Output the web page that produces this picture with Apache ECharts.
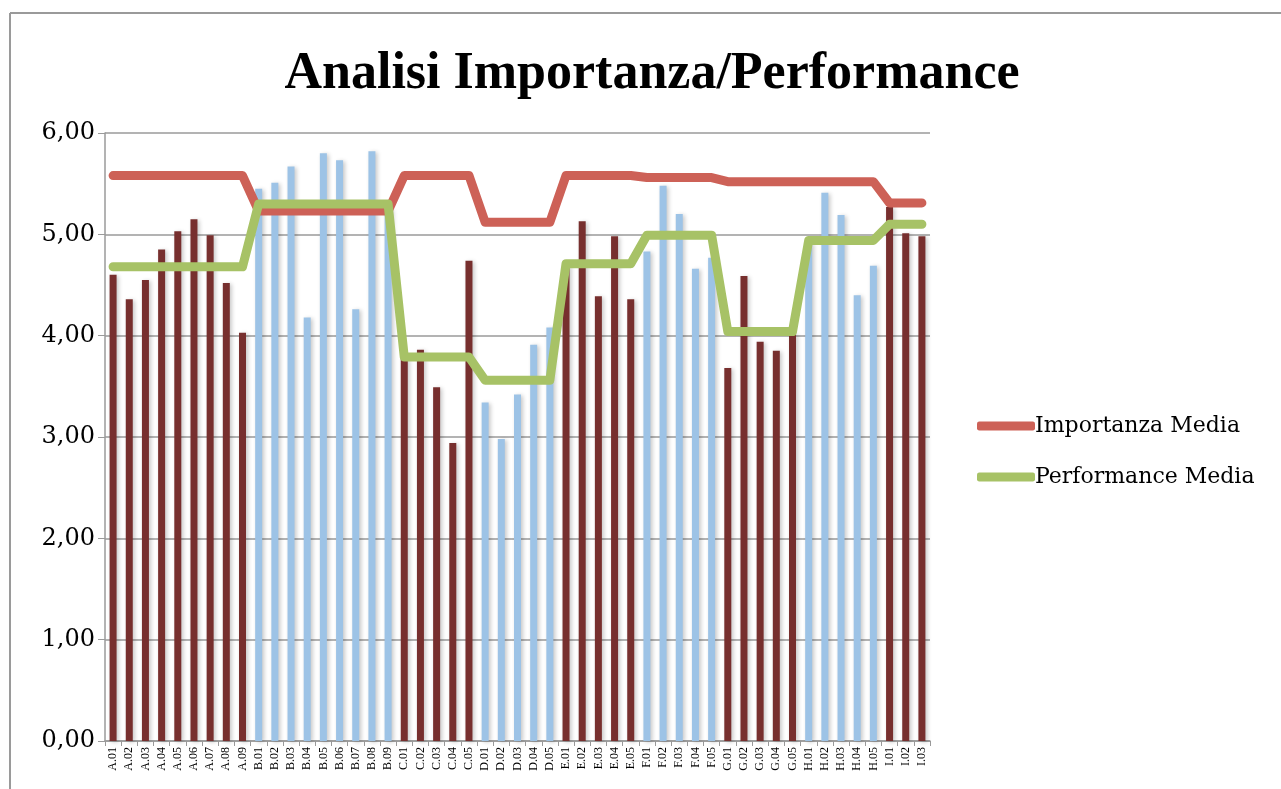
<!DOCTYPE html>
<html>
<head>
<meta charset="utf-8">
<title>Analisi Importanza/Performance</title>
<script src="https://cdn.jsdelivr.net/npm/echarts@6/dist/echarts.min.js"></script>
<style>
  html, body { margin: 0; padding: 0; background: #fff; }
  #chart { width: 1281px; height: 789px; }
</style>
</head>
<body>
<div id="chart"></div>
<script>
// categorie (item del questionario)
var categories = [
  "A.01","A.02","A.03","A.04","A.05","A.06","A.07","A.08","A.09",
  "B.01","B.02","B.03","B.04","B.05","B.06","B.07","B.08","B.09",
  "C.01","C.02","C.03","C.04","C.05",
  "D.01","D.02","D.03","D.04","D.05",
  "E.01","E.02","E.03","E.04","E.05",
  "F.01","F.02","F.03","F.04","F.05",
  "G.01","G.02","G.03","G.04","G.05",
  "H.01","H.02","H.03","H.04","H.05",
  "I.01","I.02","I.03"
];

// valori dei singoli item (barre)
var valoriItem = [
  4.60, 4.36, 4.55, 4.85, 5.03, 5.15, 4.99, 4.52, 4.03,
  5.45, 5.51, 5.67, 4.18, 5.80, 5.73, 4.26, 5.82, 5.25,
  3.78, 3.86, 3.49, 2.94, 4.74,
  3.34, 2.98, 3.42, 3.91, 4.08,
  4.70, 5.13, 4.39, 4.98, 4.36,
  4.83, 5.48, 5.20, 4.66, 4.77,
  3.68, 4.59, 3.94, 3.85, 4.02,
  4.92, 5.41, 5.19, 4.40, 4.69,
  5.27, 5.01, 4.98
];

// medie per gruppo (A..I)
var gruppi = ["A","B","C","D","E","F","G","H","I"];
var importanzaGruppo = [5.58, 5.23, 5.58, 5.12, 5.58, 5.56, 5.52, 5.52, 5.31];
var performanceGruppo = [4.68, 5.30, 3.79, 3.56, 4.71, 4.99, 4.04, 4.94, 5.10];

var yTicks = [0, 1, 2, 3, 4, 5, 6];

var rosso = "#CD6157";
var verde = "#A7C266";
var barraScura = "#772F2E";
var barraChiara = "#9DC3E6";
var serif = "'Liberation Serif', 'DejaVu Serif', serif";
var serifLargo = "'DejaVu Serif', serif";

function mediaPerItem(medie) {
  return categories.map(function (c) {
    return medie[gruppi.indexOf(c.charAt(0))];
  });
}

var chart = echarts.init(document.getElementById("chart"));

chart.setOption({
  backgroundColor: "#fff",
  animation: false,
  title: {
    text: "Analisi Importanza/Performance",
    left: 647,
    textAlign: "center",
    top: 44,
    textStyle: {
      fontFamily: serif,
      fontWeight: "bold",
      fontSize: 52,
      color: "#000"
    }
  },
  graphic: [
    { type: "line", shape: { x1: 10, y1: 13, x2: 1281, y2: 13 }, style: { stroke: "#9a9a9a", lineWidth: 2 } },
    { type: "line", shape: { x1: 10, y1: 13, x2: 10, y2: 789 }, style: { stroke: "#9a9a9a", lineWidth: 2 } }
  ],
  legend: {
    orient: "vertical",
    left: 972,
    top: 410,
    itemWidth: 58,
    itemHeight: 9,
    itemGap: 29,
    icon: "roundRect",
    data: ["Importanza Media", "Performance Media"],
    textStyle: {
      fontFamily: serifLargo,
      fontSize: 22,
      color: "#000",
      padding: [0, 0, 0, -5]
    }
  },
  grid: {
    left: 105,
    right: 351,
    top: 133,
    bottom: 48,
    containLabel: false
  },
  xAxis: {
    type: "category",
    data: categories,
    axisLine: { lineStyle: { color: "#9a9a9a", width: 1.5 } },
    axisTick: { show: true, length: 5, lineStyle: { color: "#9a9a9a" } },
    axisLabel: {
      interval: 0,
      rotate: 90,
      fontFamily: serif,
      fontSize: 12,
      color: "#000",
      margin: 6
    }
  },
  yAxis: {
    type: "value",
    min: yTicks[0],
    max: yTicks[yTicks.length - 1],
    interval: 1,
    axisLine: { show: true, lineStyle: { color: "#9a9a9a", width: 1.5 } },
    axisTick: { show: true, length: 7, lineStyle: { color: "#9a9a9a" } },
    splitLine: { lineStyle: { color: "#9a9a9a", width: 1.5 } },
    axisLabel: {
      fontFamily: serifLargo,
      fontSize: 24,
      color: "#000",
      margin: 10,
      formatter: function (v) { return v.toFixed(2).replace(".", ","); }
    }
  },
  series: [
    {
      name: "Valori",
      type: "bar",
      data: valoriItem,
      barWidth: 7,
      itemStyle: {
        color: function (p) {
          var g = gruppi.indexOf(categories[p.dataIndex].charAt(0));
          return g % 2 === 0 ? barraScura : barraChiara;
        },
        shadowColor: "rgba(0,0,0,0.22)",
        shadowBlur: 4,
        shadowOffsetX: 2,
        shadowOffsetY: 1
      },
      z: 2
    },
    {
      name: "Importanza Media",
      type: "line",
      data: mediaPerItem(importanzaGruppo),
      symbol: "none",
      color: rosso,
      lineStyle: { width: 9, color: rosso, cap: "round", join: "round" },
      z: 3
    },
    {
      name: "Performance Media",
      type: "line",
      data: mediaPerItem(performanceGruppo),
      symbol: "none",
      color: verde,
      lineStyle: { width: 9, color: verde, cap: "round", join: "round" },
      z: 4
    }
  ]
});
</script>
</body>
</html>
